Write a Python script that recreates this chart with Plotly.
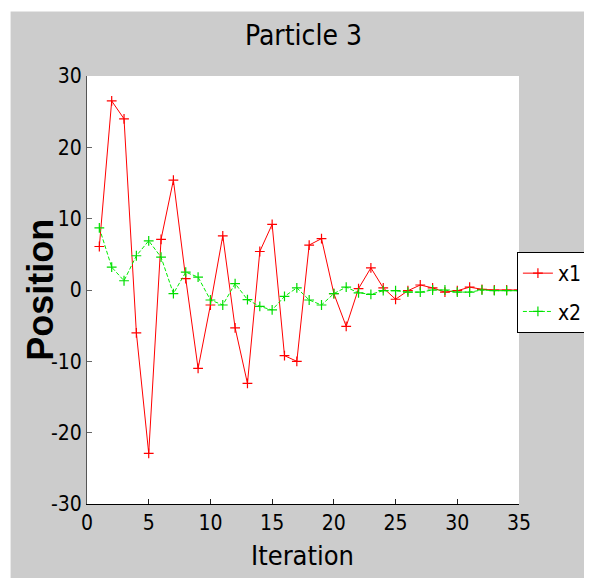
import plotly.graph_objects as go

iterations = list(range(1, 36))
x1 = [6.1, 26.5, 24.0, -6.0, -22.9, 7.1, 15.4, 1.6, -11.0, -2.1,
      7.6, -5.3, -13.1, 5.4, 9.2, -9.2, -10.0, 6.3, 7.2, -0.5,
      -5.1, 0.2, 3.1, 0.3, -1.3, -0.1, 0.7, 0.3, -0.3, -0.1,
      0.4, 0.1, 0.0, 0.0, 0.0]
x2 = [8.7, 3.2, 1.3, 4.8, 6.9, 4.6, -0.5, 2.5, 1.8, -1.4,
      -2.1, 0.9, -1.35, -2.3, -2.8, -0.9, 0.3, -1.4, -2.1, -0.5,
      0.4, -0.4, -0.6, -0.1, -0.1, -0.3, -0.3, 0.0, 0.0, -0.3,
      -0.3, 0.0, -0.1, -0.1, -0.1]
x_ticks = [0, 5, 10, 15, 20, 25, 30, 35]
y_ticks = [-30, -20, -10, 0, 10, 20, 30]
y_tick_labels = ["-30", "-20", "-10", "0", "10", "20", "30"]

OFF = 8  # page body margin
W, H = 592, 578
# plot area in screen pixels: x 86.5..519, y 75.5..504
L = 86.5 - OFF
T = 75.5 - OFF
R = W - (519 - OFF)
B = H - (504 - OFF)
pw = W - L - R
ph = H - T - B

def px_x(p):  # screen pixel -> paper x
    return (p - OFF - L) / pw

def px_y(p):  # screen pixel -> paper y
    return (H - B - (p - OFF)) / ph

NARROW = "DejaVu Sans Condensed, Liberation Sans Narrow, Arial Narrow, Liberation Sans, Arial, sans-serif"
SANS = "Liberation Sans, Arial, sans-serif"
GRAY = "#cccccc"

fig = go.Figure()
fig.add_trace(go.Scatter(
    x=iterations, y=x1, mode="lines+markers", name="x1", legendgroup="a",
    line=dict(color="#ff0000", width=1),
    marker=dict(symbol="cross-thin", size=7, line=dict(color="#ff0000", width=1.2)),
))
fig.add_trace(go.Scatter(
    x=iterations, y=x2, mode="lines+markers", name="x2", legendgroup="b",
    line=dict(color="#00ee00", width=1, dash="4px,2px"),
    marker=dict(symbol="cross-thin", size=7, line=dict(color="#00dd00", width=1.2)),
))

fig.update_layout(
    width=W, height=H, autosize=False,
    margin=dict(l=L, r=R, t=T, b=B, pad=0, autoexpand=False),
    paper_bgcolor=GRAY, plot_bgcolor="white",
    showlegend=True,
    legend=dict(
        x=px_x(588), y=px_y(251.7), xanchor="right", yanchor="top",
        bgcolor="white", bordercolor="black", borderwidth=1,
        font=dict(family=NARROW, size=21, color="black"),
        itemwidth=30, tracegroupgap=8, traceorder="grouped",
    ),
    xaxis=dict(
        range=[0, 35], tickvals=x_ticks, ticks="inside", ticklen=5,
        tickcolor="#222222", showgrid=False, zeroline=False,
        showline=True, linecolor="black", linewidth=1,
        tickfont=dict(family=NARROW, size=21, color="black"),
    ),
    yaxis=dict(
        range=[-30, 30], tickvals=y_ticks, ticktext=y_tick_labels,
        ticks="inside", ticklen=5,
        tickcolor="#666666", showgrid=False, zeroline=False,
        showline=True, linecolor="#555555", linewidth=1,
        tickfont=dict(family=NARROW, size=21, color="black"),
        ticklabelstandoff=0,
    ),
    shapes=[
        dict(type="rect", xref="paper", yref="paper",
             x0=px_x(0), x1=px_x(620), y0=px_y(11), y1=px_y(0),
             fillcolor="white", line=dict(width=0), layer="above"),
        dict(type="rect", xref="paper", yref="paper",
             x0=px_x(0), x1=px_x(10), y0=px_y(620), y1=px_y(0),
             fillcolor="white", line=dict(width=0), layer="above"),
    ],
    annotations=[
        dict(text="Particle 3", xref="paper", yref="paper",
             x=px_x(302.8), y=px_y(35), xanchor="center", yanchor="middle",
             showarrow=False, font=dict(family=NARROW, size=28, color="black")),
        dict(text="Iteration", xref="paper", yref="paper",
             x=px_x(302), y=px_y(556), xanchor="center", yanchor="middle",
             showarrow=False, font=dict(family=NARROW, size=27, color="black")),
        dict(text="<b>Position</b>", xref="paper", yref="paper", textangle=-90,
             x=px_x(40), y=px_y(290), xanchor="center", yanchor="middle",
             showarrow=False, font=dict(family=SANS, size=36, color="black")),
    ],
)

fig.write_html("out.html", post_script="document.body.style.overflow='hidden';")
